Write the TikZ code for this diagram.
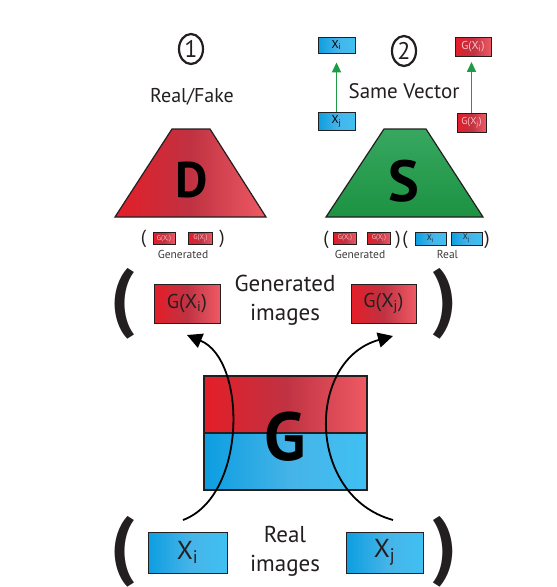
\documentclass[tikz,border=0pt]{standalone}
\usepackage{fontspec}
\setmainfont{PT Sans}
\usetikzlibrary{arrows.meta,shapes.geometric}
\definecolor{rl}{RGB}{228,30,40}
\definecolor{rm}{RGB}{192,50,66}
\definecolor{rr}{RGB}{238,90,100}
\definecolor{bl}{RGB}{12,158,224}
\definecolor{bm}{RGB}{70,180,232}
\definecolor{br}{RGB}{64,192,242}
\definecolor{gt}{RGB}{56,168,96}
\definecolor{gb}{RGB}{28,146,66}
\definecolor{garrow}{RGB}{30,155,70}
\definecolor{ink}{RGB}{35,31,32}
\definecolor{pinktext}{RGB}{250,195,198}
\definecolor{smallgray}{RGB}{60,60,60}
\pgfdeclarehorizontalshading{redsh}{100bp}{color(0bp)=(rl); color(25bp)=(rl); color(50bp)=(rm); color(75bp)=(rr); color(100bp)=(rr)}
\pgfdeclarehorizontalshading{bluesh}{100bp}{color(0bp)=(bl); color(25bp)=(bl); color(52bp)=(bm); color(75bp)=(br); color(100bp)=(br)}
\pgfdeclareverticalshading{greensh}{100bp}{color(0bp)=(gb); color(25bp)=(gb); color(75bp)=(gt); color(100bp)=(gt)}
\tikzset{
  redbox/.style={draw=ink, line width=0.9pt, shading=redsh, inner sep=0pt},
  bluebox/.style={draw=ink, line width=0.9pt, shading=bluesh, inner sep=0pt},
  medtext/.style={font=\fontsize{20}{20}\selectfont, text=ink},
  bigtext/.style={font=\fontsize{26}{26}\selectfont, text=ink},
  tinyred/.style={font=\fontsize{7}{7}\selectfont, text=pinktext},
  tinyblue/.style={font=\fontsize{8}{8}\selectfont, text=ink},
  toptext/.style={font=\fontsize{11.5}{11.5}\selectfont},
  smallparen/.style={font=\fontsize{19}{19}\selectfont, text=ink, inner sep=0pt},
  bigparen/.style={font=\fontsize{76}{76}\selectfont\bfseries, text=ink, inner sep=0pt},
  smalllabel/.style={font=\fontsize{11.5}{11.5}\selectfont, text=smallgray, inner sep=0pt},
  label/.style={font=\fontsize{20}{20}\selectfont, text=ink, inner sep=0pt},
  biglabel/.style={font=\fontsize{23}{29}\selectfont, text=ink, inner sep=0pt, align=center},
  numcirc/.style={ellipse, draw=ink, line width=2.2pt, minimum width=24pt, minimum height=30pt, inner sep=0pt, font=\fontsize{24}{24}\selectfont, text=ink},
  trap/.style={draw=ink, line width=1.2pt},
  bigletter/.style={font=\fontsize{#1}{#1}\selectfont\bfseries, text=black, inner sep=0pt},
  greenarrow/.style={draw=garrow, line width=1.5pt, -{Triangle[length=10pt,width=9pt]}},
  curvearrow/.style={draw=black, line width=1.8pt, -{Triangle[length=15pt,width=15pt]}},
}
\begin{document}
\begin{tikzpicture}[x=1pt,y=-1pt]
\useasboundingbox (0,0) rectangle (557,587);
\fill[white] (0,0) rectangle (557,587);

% ---- top left: discriminator
\node[numcirc] (c1) at (191,49) {1};
\node[label] (rf) at (192,97) {Real/Fake};
\shadedraw[trap, shading=redsh] (172,129) -- (210,129) -- (266,217) -- (115,217) -- cycle;
\node[bigletter=50] (D) at (191.5,180) {D};
\node[smallparen] (dp1) at (143.5,239) {(};
\node[redbox, minimum width=22pt, minimum height=12pt, tinyred] (dg1) at (164,238.5) {G(X\textsubscript{i})};
\node[redbox, minimum width=24pt, minimum height=12pt, tinyred] (dg2) at (200.5,238.5) {G(X\textsubscript{j})};
\node[smallparen] (dp2) at (222,239) {)};
\node[smalllabel] (dgen) at (183,254) {Generated};

% ---- top right: siamese
\node[numcirc] (c2) at (404,51) {2};
\node[label, font=\fontsize{21}{21}\selectfont] (sv) at (404,91) {Same Vector};
\node[bluebox, minimum width=37pt, minimum height=16pt, toptext] (xi) at (336.5,45) {X\textsubscript{i}};
\node[bluebox, minimum width=37pt, minimum height=18pt, toptext] (xj) at (336.5,121) {X\textsubscript{j}};
\node[redbox, minimum width=36pt, minimum height=19pt, toptext, text=pinktext] (gi) at (473,47) {G(X\textsubscript{i})};
\node[redbox, minimum width=29pt, minimum height=19pt, toptext, text=pinktext, font=\fontsize{10}{10}\selectfont] (gj) at (471.5,122.5) {G(X\textsubscript{j})};
\draw[greenarrow, shorten >=9pt] (xj.north) -- (xi.south);
\draw[greenarrow, shorten >=5pt] (gj.north) -- (gj.north |- gi.south);

\shadedraw[trap, shading=greensh] (384,129) -- (426,129) -- (483,217) -- (326,217) -- cycle;
\node[bigletter=58] (S) at (404,181) {S};
\node[smallparen] (sp1) at (326,240) {(};
\node[redbox, minimum width=23pt, minimum height=12pt, tinyred] (sg1) at (345,238) {G(X\textsubscript{i})};
\node[redbox, minimum width=23pt, minimum height=12pt, tinyred] (sg2) at (379,238) {G(X\textsubscript{j})};
\node[smallparen] (sp2) at (398,240) {)};
\node[smallparen] (sp3) at (405,240) {(};
\node[bluebox, minimum width=31pt, minimum height=13pt, tinyblue] (sx1) at (430.5,238.5) {X\textsubscript{i}};
\node[bluebox, minimum width=31pt, minimum height=13pt, tinyblue] (sx2) at (466.5,238.5) {X\textsubscript{j}};
\node[smallparen] (sp4) at (487,240) {)};
\node[smalllabel] (sgen) at (360,254) {Generated};
\node[smalllabel] (sreal) at (447.5,254) {Real};

% ---- generated images row
\node[bigparen] (gp1) at (123,304) {(};
\node[bigparen] (gp2) at (445,304) {)};
\node[redbox, line width=1pt, minimum width=66pt, minimum height=39pt, medtext] (Gi) at (187,303.5) {G(X\textsubscript{i})};
\node[redbox, line width=1pt, minimum width=65pt, minimum height=39pt, medtext] (Gj) at (383.5,303.5) {G(X\textsubscript{j})};
\node[biglabel] (genimg) at (285,300) {Generated\\images};

% ---- generator
\shadedraw[draw=ink, line width=1.4pt, shading=redsh] (204,376) rectangle (367,433);
\shadedraw[draw=ink, line width=1.4pt, shading=bluesh] (204,433) rectangle (367,490);
\node[bigletter=68] (G) at (285,437) {G};

% ---- real images row
\node[bigparen] (rp1) at (123,552) {(};
\node[bigparen] (rp2) at (445,552) {)};
\node[bluebox, line width=1pt, minimum width=79pt, minimum height=41pt, bigtext] (Xi) at (187.5,552.5) {X\textsubscript{i}};
\node[bluebox, line width=1pt, minimum width=77pt, minimum height=41pt, bigtext] (Xj) at (384.5,552.5) {X\textsubscript{j}};
\node[biglabel] (realimg) at (285,551) {Real\\images};

% ---- curved arrows
\coordinate (la0) at (183,520);
\coordinate (la3) at (187,335);
\coordinate (ra0) at (393,520);
\coordinate (ra3) at (393,336);
\draw[curvearrow] (la0) .. controls (247,496) and (247,360) .. (la3);
\draw[curvearrow] (ra0) .. controls (306,496) and (306,360) .. (ra3);
\end{tikzpicture}
\end{document}
